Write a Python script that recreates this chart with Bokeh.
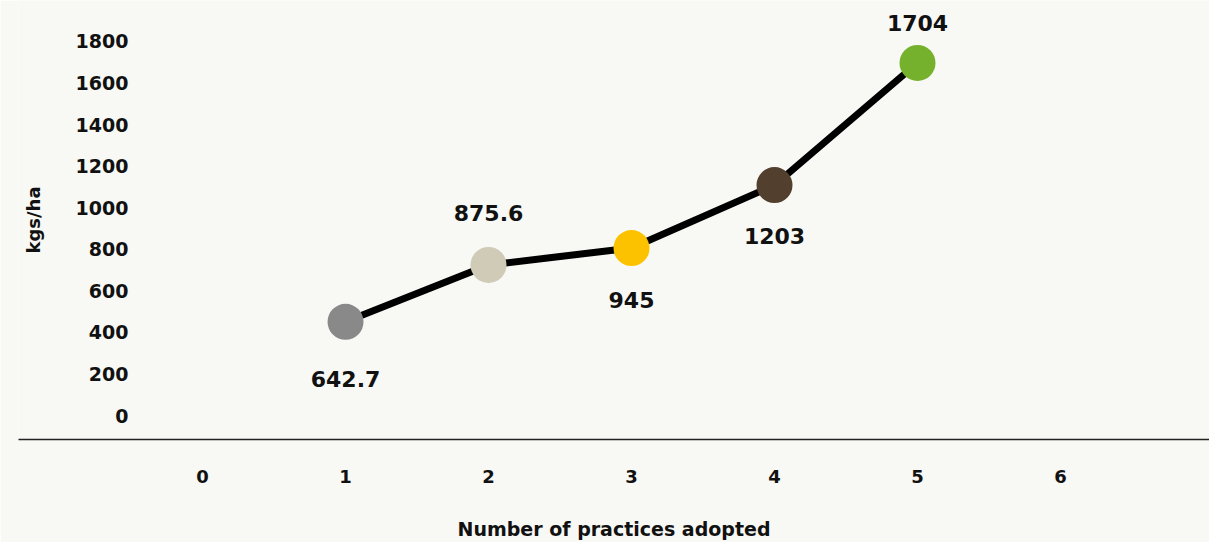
from bokeh.plotting import figure
from bokeh.models import (ColumnDataSource, LinearAxis, Range1d, FixedTicker)
from bokeh.core.properties import value
from bokeh.embed import file_html
from bokeh.resources import INLINE

# Yield (kgs/ha) by number of practices adopted
practices = [1, 2, 3, 4, 5]
yields = [642.7, 875.6, 945, 1203, 1704]
point_colors = ["#898989", "#cfcbb6", "#fcc200", "#523f2d", "#76b12d"]
value_labels = ["642.7", "875.6", "945", "1203", "1704"]

x_ticks = [0, 1, 2, 3, 4, 5, 6]
y_ticks = [0, 200, 400, 600, 800, 1000, 1200, 1400, 1600, 1800]

BG = "#f8f8f4"
FONT = "DejaVu Sans"

# label placement: below (+) or above (-) the marker, in screen pixels
label_dy = [57, -52, 52, 51, -40]

source = ColumnDataSource(dict(
    x=practices, y=yields, color=point_colors, label=value_labels, dy=label_dy,
))

p = figure(
    width=1209, height=542,
    x_range=Range1d(-1.287, 7.042),
    y_range=Range1d(160, 1960),
    output_backend="svg", toolbar_location=None,
    min_border_left=18, min_border_right=0, min_border_top=0, min_border_bottom=102,
    background_fill_color=BG, border_fill_color=BG,
    outline_line_color=None,
    x_axis_location=None, y_axis_location=None,
)
p.grid.visible = False

# scale used by the printed kgs/ha axis
p.extra_y_ranges = {"scale": Range1d(-115.2, 1996.8)}

yaxis = LinearAxis(y_range_name="scale", ticker=FixedTicker(ticks=y_ticks),
                   axis_label="kgs/ha")
yaxis.fixed_location = -0.406
yaxis.axis_line_color = None
yaxis.major_tick_line_color = None
yaxis.minor_tick_line_color = None
yaxis.major_label_standoff = 10
yaxis.major_label_text_font = FONT
yaxis.major_label_text_font_style = "bold"
yaxis.major_label_text_font_size = "19px"
yaxis.major_label_text_color = "#111111"
yaxis.axis_label_text_font = FONT
yaxis.axis_label_text_font_style = "bold"
yaxis.axis_label_text_font_size = "18px"
yaxis.axis_label_text_color = "#111111"
yaxis.axis_label_standoff = 29
p.add_layout(yaxis, "left")

xaxis = LinearAxis(ticker=FixedTicker(ticks=x_ticks),
                   axis_label="Number of practices adopted")
xaxis.axis_line_color = "#222222"
xaxis.axis_line_width = 1.5
xaxis.major_tick_line_color = None
xaxis.minor_tick_line_color = None
xaxis.major_label_standoff = 24
xaxis.major_label_text_font = FONT
xaxis.major_label_text_font_style = "bold"
xaxis.major_label_text_font_size = "18px"
xaxis.major_label_text_color = "#111111"
xaxis.axis_label_text_font = FONT
xaxis.axis_label_text_font_style = "bold"
xaxis.axis_label_text_font_size = "19px"
xaxis.axis_label_text_color = "#111111"
xaxis.axis_label_standoff = 32
p.add_layout(xaxis, "below")

p.line("x", "y", source=source, line_color="black", line_width=7)
p.scatter("x", "y", source=source, size=36, fill_color="color", line_color=None)
p.text("x", "y", text="label", source=source, y_offset="dy",
       text_font=value(FONT), text_font_style="bold", text_font_size="22px",
       text_align="center", text_baseline="middle", text_color="#111111")

open("out.html", "w").write(file_html(p, INLINE))
